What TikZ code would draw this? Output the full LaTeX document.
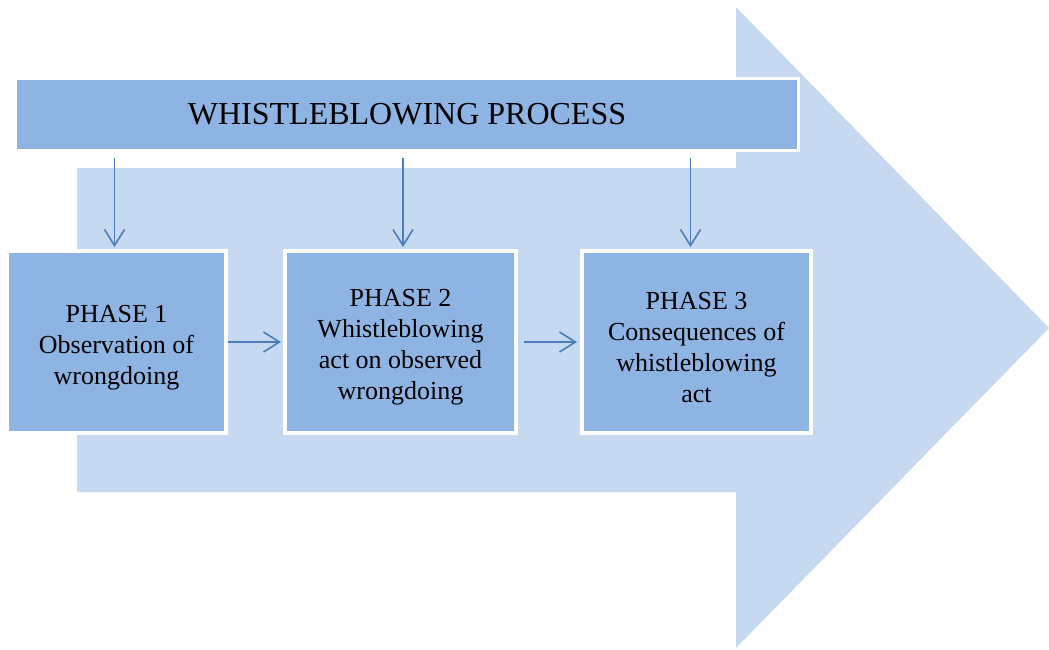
\documentclass[tikz,border=0pt]{standalone}
\usepackage{fontspec}
\setmainfont{Liberation Serif}
\usetikzlibrary{arrows.meta,positioning}
\definecolor{boxblue}{RGB}{142,180,227}
\definecolor{paleblue}{RGB}{198,217,241}
\definecolor{lineblue}{RGB}{74,126,187}
\newcommand{\toppad}{\rule{0pt}{28pt}}
\tikzstyle{phase} = [draw=white, fill=boxblue, rectangle, line width=4pt,
    minimum height=182pt, align=center, font=\fontsize{26}{31}\selectfont]
\tikzstyle{header} = [draw=white, fill=boxblue, rectangle, line width=3pt,
    minimum width=783pt, minimum height=72pt, font=\fontsize{32}{38}\selectfont]
\tikzstyle{link} = [draw=lineblue, line width=1.6pt,
    -{Straight Barb[length=16pt,width=20pt,line width=1.6pt]}]

\begin{document}
\begin{tikzpicture}[auto, x=1pt, y=-1pt]
\useasboundingbox (0,0) rectangle (1049,650);

% big background arrow
\fill[paleblue] (77,168) -- (736,168) -- (736,7) -- (1049,328) -- (736,648)
    -- (736,492) -- (77,492) -- cycle;

\node [header, name=title] at (407,114.5) {WHISTLEBLOWING PROCESS};

\node [phase, name=ph1, minimum width=219pt] at (116.5,342) {\toppad PHASE 1\\Observation of\\wrongdoing};
\node [phase, name=ph2, minimum width=231pt] at (400.5,342) {\toppad PHASE 2\\Whistleblowing\\act on observed\\wrongdoing};
\node [phase, name=ph3, minimum width=229pt] at (696.5,342) {\toppad PHASE 3\\Consequences of\\whistleblowing\\act};

\draw [link, shorten <=6pt, shorten >=2pt] ([xshift=-2pt]title.south -| ph1.north) -- ([xshift=-2pt]ph1.north);
\draw [link, shorten <=6pt, shorten >=2pt] ([xshift=2.5pt]title.south -| ph2.north) -- ([xshift=2.5pt]ph2.north);
\draw [link, shorten <=6pt, shorten >=2pt] ([xshift=-6pt]title.south -| ph3.north) -- ([xshift=-6pt]ph3.north);

\draw [link, shorten >=2pt] (ph1.east) -- (ph2.west);
\draw [link, shorten <=6pt, shorten >=3pt] (ph2.east) -- (ph3.west);

\end{tikzpicture}
\end{document}
